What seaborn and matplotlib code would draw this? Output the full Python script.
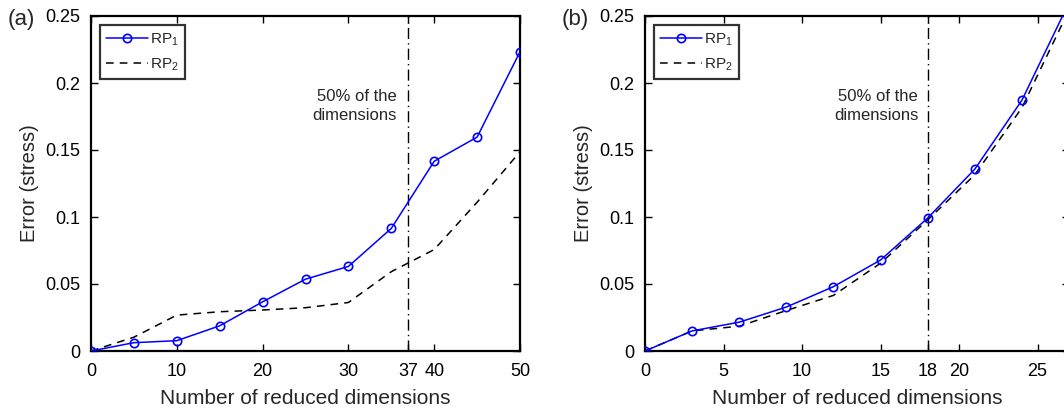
import matplotlib
matplotlib.use("Agg")
import matplotlib.pyplot as plt
import seaborn as sns
import pandas as pd

# ---- data ----
dims_a = [0, 5, 10, 15, 20, 25, 30, 35, 40, 45, 50]
rp1_a = [0, 0.0062, 0.0077, 0.0188, 0.0367, 0.0536, 0.0631, 0.0915, 0.1416, 0.1596, 0.2233]
rp2_a = [0, 0.0103, 0.0268, 0.0293, 0.0306, 0.0323, 0.0362, 0.0592, 0.0757, 0.1110, 0.1487]

dims_b = [0, 3, 6, 9, 12, 15, 18, 21, 24, 27]
rp1_b = [0, 0.0150, 0.0215, 0.0328, 0.0480, 0.0679, 0.0992, 0.1357, 0.1871, 0.2600]
rp2_b = [0, 0.0150, 0.0185, 0.0302, 0.0415, 0.0655, 0.0978, 0.1315, 0.1815, 0.2545]

xticks_a = [0, 10, 20, 30, 37, 40, 50]
xticks_b = [0, 5, 10, 15, 18, 20, 25]
yticks = [0, 0.05, 0.1, 0.15, 0.2, 0.25]
ytick_labels = ["0", "0.05", "0.1", "0.15", "0.2", "0.25"]
half_a = 37
half_b = 18
series_names = ["RP$_1$", "RP$_2$"]

sns.set_style("ticks")
plt.rcParams["font.family"] = ["Liberation Sans", "DejaVu Sans"]
plt.rcParams["mathtext.default"] = "regular"
plt.rcParams["axes.linewidth"] = 1.6

W, H = 1064, 413
fig = plt.figure(figsize=(W / 100, H / 100), dpi=100)

def make_axes(left_px, width_px):
    top_px, bottom_px = 16, 351
    return fig.add_axes([left_px / W, (H - bottom_px) / H, width_px / W, (bottom_px - top_px) / H])

def draw(ax, dims, rp1, rp2, xticks, xmax, half, text_x, label):
    df1 = pd.DataFrame({"x": dims, "y": rp1})
    df2 = pd.DataFrame({"x": dims, "y": rp2})
    sns.lineplot(data=df1, x="x", y="y", ax=ax, color="#0000ff", lw=1.1,
                 marker="o", markersize=6, markerfacecolor="none",
                 markeredgecolor="#0000ff", markeredgewidth=1.2, label=series_names[0],
                 zorder=3)
    sns.lineplot(data=df2, x="x", y="y", ax=ax, color="black", lw=1.1,
                 linestyle=(0, (5, 4)), label=series_names[1], zorder=2)
    ax.axvline(half, color="black", lw=1.0, linestyle=(0, (8, 3, 1, 3)), zorder=1)
    ax.text(text_x, 0.183, "50% of the\ndimensions", ha="right", va="center",
            fontsize=12, linespacing=1.3)
    ax.set_xlim(0, xmax)
    ax.set_ylim(0, 0.25)
    ax.set_xticks(xticks)
    ax.set_xticklabels([str(t) for t in xticks])
    ax.set_yticks(yticks)
    ax.set_yticklabels(ytick_labels)
    ax.tick_params(direction="in", length=5, width=1, top=True, right=True,
                   labelsize=13, colors="black")
    ax.tick_params(axis="x", pad=9)
    ax.tick_params(axis="y", pad=8)
    for s in ax.spines.values():
        s.set_visible(True)
        s.set_color("black")
    ax.set_xlabel("Number of reduced dimensions", fontsize=15, labelpad=6)
    ax.set_ylabel("Error (stress)", fontsize=14.5, labelpad=4)
    leg = ax.legend(loc="upper left", fontsize=11, frameon=True, fancybox=False,
                    handlelength=2.7, handletextpad=0.15, borderpad=0.4,
                    labelspacing=0.6, borderaxespad=0.6)
    leg.get_frame().set_edgecolor("black")
    leg.get_frame().set_linewidth(1.6)
    fig.text(label[1] / W, 1 - label[2] / H, label[0], fontsize=16,
             ha="left", va="center")

ax_a = make_axes(91, 429)
draw(ax_a, dims_a, rp1_a, rp2_a, xticks_a, 50, half_a, 35.6, ("(a)", 8, 20))

ax_b = make_axes(645, 424)
draw(ax_b, dims_b, rp1_b, rp2_b, xticks_b, 27, half_b, 17.4, ("(b)", 562, 20))

fig.savefig("out.png", dpi=100)
